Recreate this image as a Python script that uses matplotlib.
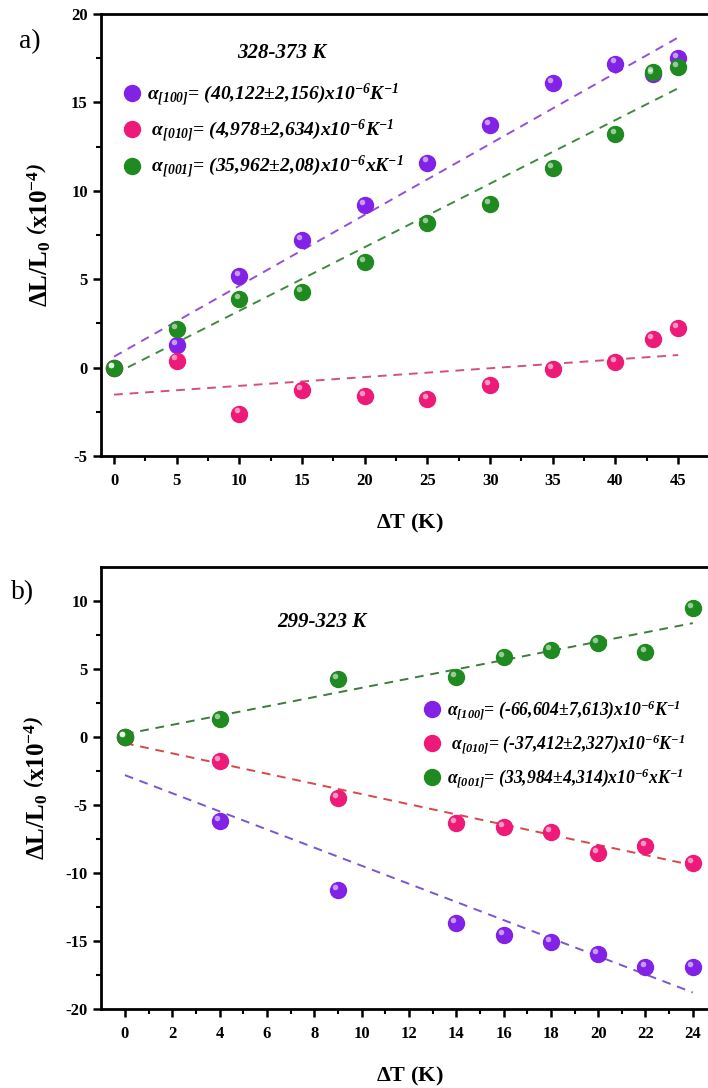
import numpy as np
import matplotlib
matplotlib.use('Agg')
import matplotlib.pyplot as plt
from matplotlib.lines import Line2D
from matplotlib.transforms import offset_copy

plt.rcParams['font.family'] = ['Liberation Serif', 'DejaVu Serif']
plt.rcParams['font.weight'] = 'bold'
plt.rcParams['axes.unicode_minus'] = False
plt.rcParams['mathtext.fontset'] = 'custom'
plt.rcParams['mathtext.rm'] = 'Liberation Serif:italic:bold'
plt.rcParams['mathtext.it'] = 'Liberation Serif:italic:bold'
plt.rcParams['mathtext.bf'] = 'Liberation Serif:bold'

# ---- panel a: 328-373 K ----
dT_a     = [0, 5, 10, 15, 20, 25, 30, 35, 40, 43, 45]
a_100    = [0, 1.3, 5.2, 7.2, 9.2, 11.6, 13.7, 16.1, 17.2, 16.6, 17.5]
a_010    = [0, 0.4, -2.6, -1.26, -1.63, -1.77, -0.97, -0.1, 0.3, 1.64, 2.23]
a_001    = [0, 2.16, 3.9, 4.26, 5.97, 8.2, 9.26, 11.3, 13.2, 16.7, 17.0]
alpha_a  = [40.122, 4.978, 35.962]     # x1e-6 K^-1
icpt_a   = [0.62, -1.53, -0.38]
labels_a = [r'$\alpha_{[100]}$= (40,122±2,156)x10$^{-6}$K$^{-1}$',
            r' $\alpha_{[010]}$= (4,978±2,634)x10$^{-6}$K$^{-1}$',
            r' $\alpha_{[001]}$= (35,962±2,08)x10$^{-6}$xK$^{-1}$']

# ---- panel b: 299-323 K ----
dT_b     = [0, 4, 9, 14, 16, 18, 20, 22, 24]
b_100    = [0, -6.2, -11.25, -13.7, -14.56, -15.05, -15.96, -16.9, -16.9]
b_010    = [0, -1.74, -4.5, -6.3, -6.6, -7.0, -8.5, -8.0, -9.24]
b_001    = [0, 1.32, 4.26, 4.43, 5.9, 6.4, 6.93, 6.27, 9.48]
alpha_b  = [-66.604, -37.412, 33.984]
icpt_b   = [-2.8, -0.45, 0.22]
labels_b = [r'$\alpha_{[100]}$= (-66,604±7,613)x10$^{-6}$K$^{-1}$',
            r' $\alpha_{[010]}$= (-37,412±2,327)x10$^{-6}$K$^{-1}$',
            r'$\alpha_{[001]}$= (33,984±4,314)x10$^{-6}$xK$^{-1}$']

dot_colors  = ['#8122e6', '#ee1a78', '#1f8a1f']
line_a      = ['#9450d8', '#d2507e', '#3f8a3f']
line_b      = ['#7a55d0', '#d84848', '#3f7a3f']

fig = plt.figure(figsize=(7.08, 10.88), dpi=100)
ax1 = fig.add_axes([0.1427, 0.5809, 0.8559, 0.4062])
ax2 = fig.add_axes([0.1427, 0.0726, 0.8559, 0.4062])


def draw_panel(ax, x, series, alphas, icpts, lcolors):
    x = np.array(x, dtype=float)
    xl = np.array([0, x.max()])
    for a, b, lc in zip(alphas, icpts, lcolors):
        ax.plot(xl, b + a / 100 * xl, ls=(0, (4.5, 3.5)), lw=1.4, color=lc, zorder=2)
    hl = offset_copy(ax.transData, fig=fig, x=-2.0, y=2.2, units='points')
    for y, c in zip(series, dot_colors):
        ax.plot(x, y, 'o', ms=11.5, color=c, mec=c, zorder=3)
        ax.plot(x, y, 'o', ms=4, color='white', alpha=0.55, mew=0,
                transform=hl, zorder=4)


def style_axes(ax):
    for s in ['left', 'bottom', 'top']:
        ax.spines[s].set_linewidth(2.0)
    ax.spines['right'].set_visible(False)
    ax.tick_params(which='major', direction='out', length=6, width=1.8,
                   labelsize=12, top=False, right=False)
    ax.tick_params(axis='x', which='major', pad=6)
    ax.tick_params(which='minor', direction='out', length=3.5, width=1.5,
                   top=False, right=False)
    for lab in ax.get_xticklabels() + ax.get_yticklabels():
        lab.set_fontweight('bold')


draw_panel(ax1, dT_a, [a_100, a_010, a_001], alpha_a, icpt_a, line_a)
ax1.set_xlim(-1.04, 47.3)
ax1.set_ylim(-5, 20)
ax1.set_xticks(np.arange(0, 46, 5))
ax1.set_xticks(np.arange(2.5, 46, 5), minor=True)
ax1.set_yticks(np.arange(-5, 21, 5))
ax1.set_yticks(np.arange(-2.5, 20, 5), minor=True)
style_axes(ax1)

draw_panel(ax2, dT_b, [b_100, b_010, b_001], alpha_b, icpt_b, line_b)
ax2.set_xlim(-1.01, 24.6)
ax2.set_ylim(-20, 12.5)
ax2.set_xticks(np.arange(0, 25, 2))
ax2.set_xticks(np.arange(1, 25, 2), minor=True)
ax2.set_yticks(np.arange(-20, 11, 5))
ax2.set_yticks(np.arange(-17.5, 12, 5), minor=True)
style_axes(ax2)

ylab = r'$\mathbf{\Delta L/L_0}\ \left(\mathbf{x10^{-4}}\right)$'
for ax, ly, lx in [(ax1, 0.5, -0.079), (ax2, 0.5, -0.084)]:
    ax.set_ylabel(ylab, fontsize=18, fontweight='bold')
    ax.yaxis.set_label_coords(lx, ly)
    ax.set_xlabel(r'$\mathbf{\Delta}$T (K)', fontsize=16, fontweight='bold')
    ax.xaxis.set_label_coords(0.51, -0.127)

handles = [Line2D([], [], ls='none', marker='o', ms=11.5, color=c) for c in dot_colors]
ax1.legend(handles, labels_a, loc='upper left', bbox_to_anchor=(0.035, 0.848),
           frameon=False, borderpad=0, borderaxespad=0, handlelength=1,
           handletextpad=0.25, labelspacing=0.5,
           prop=dict(family='Liberation Serif', style='italic', weight='bold', size=14))
ax2.legend(handles, labels_b, loc='upper left', bbox_to_anchor=(0.531, 0.703),
           frameon=False, borderpad=0, borderaxespad=0, handlelength=1,
           handletextpad=0.4, labelspacing=0.64,
           prop=dict(family='Liberation Serif', style='italic', weight='bold', size=12.7))

ax1.text(0.299, 0.912, '328-373 K', transform=ax1.transAxes, ha='center', va='center',
         fontsize=15, style='italic', fontweight='bold')
ax2.text(0.365, 0.876, '299-323 K', transform=ax2.transAxes, ha='center', va='center',
         fontsize=15, style='italic', fontweight='bold')

fig.text(30 / 708, 1 - 42 / 1088, 'a)', ha='center', va='center', fontsize=20, fontweight='normal')
fig.text(23 / 708, 1 - 593 / 1088, 'b)', ha='center', va='center', fontsize=20, fontweight='normal')

fig.savefig('out.png', dpi=100)
